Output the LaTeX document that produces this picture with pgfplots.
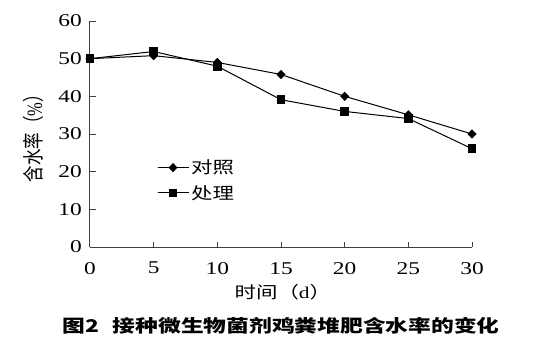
\documentclass[border=0pt]{standalone}
\usepackage{pgfplots}
\pgfplotsset{compat=1.18}
\usepackage{fontspec}
\setmainfont[FakeStretch=1.3]{Liberation Serif}
\newfontfamily\serifplain{Liberation Serif}
\newfontfamily\cjk[FakeStretch=1.3]{Noto Sans CJK SC}
\newfontfamily\cjkplain{Noto Sans CJK SC}
\begin{document}
\begin{tikzpicture}
\useasboundingbox (-90pt,-107pt) rectangle (456pt,247pt);
\begin{axis}[
  scale only axis, width=382pt, height=226pt,
  xmin=0, xmax=30, ymin=0, ymax=60,
  axis x line*=bottom, axis y line*=left,
  axis line style={black!75, line width=1pt},
  tick style={black!75, line width=1pt},
  tick align=inside, major tick length=5.5pt,
  xtick={0,5,...,30}, ytick={0,10,...,60},
  xticklabel={\fontsize{18}{18}\selectfont\pgfmathprintnumber[assume math mode=true]{\tick}},
  yticklabel={\fontsize{18}{18}\selectfont\pgfmathprintnumber[assume math mode=true]{\tick}},
  xticklabel style={anchor=north, inner sep=0pt, yshift=-15pt},
  yticklabel style={anchor=east, inner sep=0pt, xshift=-8pt},
  xlabel={{\cjk 时间（}d{\cjk ）}},
  ylabel={{\cjkplain 含水率（}{\serifplain\%}{\cjkplain ）}},
  label style={font=\fontsize{16.5}{16.5}\selectfont},
  xlabel style={at={(axis description cs:0.505,-0.202)}, anchor=center, inner sep=0pt},
  ylabel style={at={(axis description cs:-0.147,0.5)}, anchor=center, inner sep=0pt, yscale=1.3, transform shape},
  legend style={draw=none, fill=none, inner sep=0pt, at={(axis description cs:0.175,0.395)}, anchor=north west, font=\fontsize{16.5}{16.5}\selectfont\cjk, row sep=6pt},
  legend image code/.code={\draw[#1] (0pt,0pt) -- (31pt,0pt); \draw[#1, mark repeat=2, mark phase=2] plot coordinates {(0pt,0pt) (15.5pt,0pt) (31pt,0pt)};},
  legend cell align=left,
  clip=false,
]
\addplot[black, line width=1pt, mark=diamond*, mark size=3.9pt, mark options={solid, fill=black, xscale=1.3}] coordinates {
(0,50) (5,50.8) (10,49) (15,45.8) (20,40) (25,35.1) (30,30)};
\addlegendentry{对照}
\addplot[black, line width=1pt, mark=square*, mark size=3.8pt, mark options={solid, fill=black}] coordinates {
(0,50) (5,51.9) (10,48) (15,39.1) (20,36) (25,34.1) (30,26.1)};
\addlegendentry{处理}
\end{axis}
\node[font=\fontsize{17.5}{17.5}\selectfont\cjk\bfseries, inner sep=0pt] at (191pt,-79pt) {图2\hspace{0.8em}接种微生物菌剂鸡粪堆肥含水率的变化};
\end{tikzpicture}
\end{document}
